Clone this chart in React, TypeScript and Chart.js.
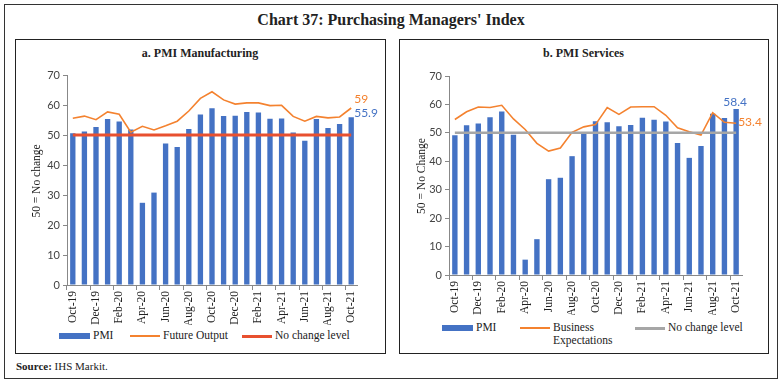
import React, { useEffect, useRef } from "react";
import { Chart, registerables } from "chart.js";
Chart.register(...registerables);

const months = [
  "Oct-19", "Nov-19", "Dec-19", "Jan-20", "Feb-20", "Mar-20", "Apr-20", "May-20", "Jun-20",
  "Jul-20", "Aug-20", "Sep-20", "Oct-20", "Nov-20", "Dec-20", "Jan-21", "Feb-21", "Mar-21",
  "Apr-21", "May-21", "Jun-21", "Jul-21", "Aug-21", "Sep-21", "Oct-21",
];
const shownTicks = [
  "Oct-19", "Dec-19", "Feb-20", "Apr-20", "Jun-20", "Aug-20", "Oct-20", "Dec-20", "Feb-21",
  "Apr-21", "Jun-21", "Aug-21", "Oct-21",
];
const yTicks = [0, 10, 20, 30, 40, 50, 60, 70];

const mfgPMI = [
  50.6, 51.2, 52.7, 55.3, 54.5, 51.8, 27.4, 30.8, 47.2, 46.0, 52.0, 56.8, 58.9, 56.3, 56.4,
  57.7, 57.5, 55.4, 55.5, 50.8, 48.1, 55.3, 52.3, 53.7, 55.9,
];
const mfgFutureOutput = [
  55.6, 56.3, 55.1, 57.7, 56.9, 50.9, 52.9, 51.7, 53.1, 54.6, 58.0, 62.2, 64.4, 61.7, 60.3,
  60.7, 60.7, 59.8, 59.9, 56.2, 54.6, 56.2, 55.7, 56.0, 59,
];
const svcPMI = [
  49.2, 52.7, 53.3, 55.5, 57.5, 49.3, 5.4, 12.6, 33.7, 34.2, 41.8, 49.8, 54.1, 53.7, 52.3,
  52.8, 55.3, 54.6, 54.0, 46.4, 41.2, 45.4, 56.7, 55.2, 58.4,
];
const svcBusinessExpectations = [
  54.7, 57.4, 59.1, 58.9, 59.7, 54.9, 51.2, 46.3, 43.6, 44.7, 50.2, 52.1, 52.9, 58.9, 56.5,
  59.1, 59.2, 59.2, 56.2, 51.8, 50.4, 49.2, 57.1, 53.7, 53.4,
];
const noChangeLevel = [
  50, 50, 50, 50, 50, 50, 50, 50, 50, 50, 50, 50, 50, 50, 50, 50, 50, 50, 50, 50, 50, 50, 50,
  50, 50,
];

const BLUE = "#4472C4";
const ORANGE = "#F4822F";
const RED = "#E8502F";
const GRAY = "#A6A6A6";
const SERIF = "'Liberation Serif', 'Times New Roman', serif";
const SANS = "Lato, 'Open Sans', sans-serif";

type EndLabel = { ds: number; text: string; color: string; align: CanvasTextAlign; dx: number; dy: number };

function endLabelsPlugin(items: EndLabel[]) {
  return {
    id: "endLabels",
    afterDatasetsDraw(chart: any) {
      const ctx = chart.ctx;
      const last = months.length - 1;
      items.forEach((it) => {
        const el = chart.getDatasetMeta(it.ds).data[last];
        if (!el) return;
        ctx.save();
        ctx.font = `12px ${SANS}`;
        ctx.fillStyle = it.color;
        ctx.textAlign = it.align;
        ctx.textBaseline = "middle";
        ctx.fillText(it.text, el.x + it.dx, el.y + it.dy);
        ctx.restore();
      });
    },
  };
}

function buildConfig(opts: {
  pmi: number[];
  line: number[];
  refColor: string;
  refWidth: number;
  yWidth: number;
  padRight: number;
  labels: EndLabel[];
}): any {
  return {
    type: "bar",
    data: {
      labels: months,
      datasets: [
        {
          type: "line",
          data: opts.line,
          borderColor: ORANGE,
          borderWidth: 1.6,
          pointRadius: 0,
          tension: 0,
          order: 1,
        },
        {
          type: "line",
          data: noChangeLevel,
          borderColor: opts.refColor,
          borderWidth: opts.refWidth,
          pointRadius: 0,
          order: 0,
        },
        {
          type: "bar",
          data: opts.pmi,
          backgroundColor: BLUE,
          barPercentage: 0.46,
          categoryPercentage: 1,
          order: 2,
        },
      ],
    },
    options: {
      animation: false,
      responsive: false,
      maintainAspectRatio: false,
      layout: { padding: { top: 10, right: opts.padRight, left: 0, bottom: 0 } },
      plugins: { legend: { display: false }, tooltip: { enabled: false } },
      scales: {
        x: {
          offset: true,
          grid: {
            offset: true,
            drawOnChartArea: false,
            drawTicks: true,
            tickLength: 5,
            color: (c: any) => (c.index % 2 === 0 ? "#888" : "rgba(0,0,0,0)"),
          },
          border: { color: "#888", width: 1 },
          ticks: {
            autoSkip: false,
            minRotation: 90,
            maxRotation: 90,
            padding: 1,
            color: "#222",
            font: { family: SERIF, size: 11.5 },
            callback: (_v: any, i: number) => (shownTicks.includes(months[i]) ? months[i] : ""),
          },
          afterFit: (s: any) => {
            s.height = 40;
          },
        },
        y: {
          min: 0,
          max: 70,
          afterBuildTicks: (s: any) => {
            s.ticks = yTicks.map((v) => ({ value: v }));
          },
          grid: { drawOnChartArea: false, drawTicks: true, tickLength: 4, color: "#888" },
          border: { color: "#888", width: 1 },
          ticks: { padding: 3, color: "#444", font: { family: SANS, size: 11 } },
          afterFit: (s: any) => {
            s.width = opts.yWidth;
          },
        },
      },
    },
    plugins: [endLabelsPlugin(opts.labels)],
  };
}

function ChartCanvas(props: { config: any; left: number; top: number; width: number; height: number }) {
  const ref = useRef<HTMLCanvasElement>(null);
  useEffect(() => {
    if (!ref.current) return;
    const chart = new Chart(ref.current, props.config);
    return () => chart.destroy();
  }, []);
  return (
    <canvas
      ref={ref}
      width={props.width}
      height={props.height}
      style={{ position: "absolute", left: props.left, top: props.top, width: props.width, height: props.height }}
    />
  );
}

function YTitle(props: { text: string; cx: number; cy: number }) {
  return (
    <div
      style={{
        position: "absolute",
        left: props.cx - 100,
        top: props.cy - 7,
        width: 200,
        height: 14,
        lineHeight: "14px",
        textAlign: "center",
        transform: "rotate(-90deg)",
        fontFamily: SERIF,
        fontSize: 11.5,
        color: "#222",
        whiteSpace: "nowrap",
      }}
    >
      {props.text}
    </div>
  );
}

const legendText: React.CSSProperties = {
  position: "absolute",
  fontFamily: SERIF,
  fontSize: 11.5,
  color: "#222",
  lineHeight: "13px",
  whiteSpace: "nowrap",
};

export default function App() {
  const leftCfg = buildConfig({
    pmi: mfgPMI,
    line: mfgFutureOutput,
    refColor: RED,
    refWidth: 3,
    yWidth: 51,
    padRight: 27,
    labels: [
      { ds: 0, text: String(mfgFutureOutput[mfgFutureOutput.length - 1]), color: ORANGE, align: "left", dx: 3, dy: -9 },
      { ds: 2, text: String(mfgPMI[mfgPMI.length - 1]), color: BLUE, align: "left", dx: 3, dy: -4 },
    ],
  });
  const rightCfg = buildConfig({
    pmi: svcPMI,
    line: svcBusinessExpectations,
    refColor: GRAY,
    refWidth: 2.5,
    yWidth: 49,
    padRight: 25,
    labels: [
      { ds: 2, text: String(svcPMI[svcPMI.length - 1]), color: BLUE, align: "center", dx: -1, dy: -7 },
      { ds: 0, text: String(svcBusinessExpectations[svcBusinessExpectations.length - 1]), color: ORANGE, align: "left", dx: 2, dy: -1 },
    ],
  });

  return (
    <div style={{ position: "absolute", left: 0, top: 0, width: 782, height: 383, background: "#fff", overflow: "hidden" }}>
      <div style={{ position: "absolute", left: 4, top: 4, width: 772, height: 373, border: "1.5px solid #333" }} />
      <div
        style={{
          position: "absolute",
          left: 0,
          top: 11,
          width: 782,
          textAlign: "center",
          fontFamily: SERIF,
          fontWeight: "bold",
          fontSize: 16,
          color: "#222",
        }}
      >
        Chart 37: Purchasing Managers' Index
      </div>

      {/* Left panel */}
      <div style={{ position: "absolute", left: 15, top: 39, width: 369, height: 313, border: "1px solid #222" }} />
      <div style={{ position: "absolute", left: 15, top: 46, width: 370, textAlign: "center", fontFamily: SERIF, fontWeight: "bold", fontSize: 12, color: "#222" }}>
        a. PMI Manufacturing
      </div>
      <ChartCanvas config={leftCfg} left={16} top={65} width={368} height={260} />
      <YTitle text="50 = No change" cx={36} cy={181} />
      <div style={{ position: "absolute", left: 59, top: 333, width: 31, height: 6, background: BLUE }} />
      <div style={{ ...legendText, left: 93, top: 329 }}>PMI</div>
      <div style={{ position: "absolute", left: 130, top: 335, width: 30, height: 2, background: ORANGE }} />
      <div style={{ ...legendText, left: 163, top: 329 }}>Future Output</div>
      <div style={{ position: "absolute", left: 242, top: 334.5, width: 30, height: 3, background: RED }} />
      <div style={{ ...legendText, left: 275, top: 329 }}>No change level</div>

      {/* Right panel */}
      <div style={{ position: "absolute", left: 399, top: 39, width: 368, height: 313, border: "1px solid #222" }} />
      <div style={{ position: "absolute", left: 399, top: 46, width: 369, textAlign: "center", fontFamily: SERIF, fontWeight: "bold", fontSize: 12, color: "#222" }}>
        b. PMI Services
      </div>
      <ChartCanvas config={rightCfg} left={400} top={66} width={367} height={249} />
      <YTitle text="50 = No Change" cx={421} cy={176} />
      <div style={{ position: "absolute", left: 442, top: 325, width: 31, height: 6, background: BLUE }} />
      <div style={{ ...legendText, left: 476, top: 321 }}>PMI</div>
      <div style={{ position: "absolute", left: 520, top: 327, width: 30, height: 2, background: ORANGE }} />
      <div style={{ ...legendText, left: 553, top: 321 }}>
        Business
        <br />
        Expectations
      </div>
      <div style={{ position: "absolute", left: 635, top: 327, width: 30, height: 2.5, background: GRAY }} />
      <div style={{ ...legendText, left: 668, top: 321 }}>No change level</div>

      <div style={{ position: "absolute", left: 16, top: 360, fontFamily: SERIF, fontSize: 11, color: "#222" }}>
        <b>Source:</b> IHS Markit.
      </div>
    </div>
  );
}
